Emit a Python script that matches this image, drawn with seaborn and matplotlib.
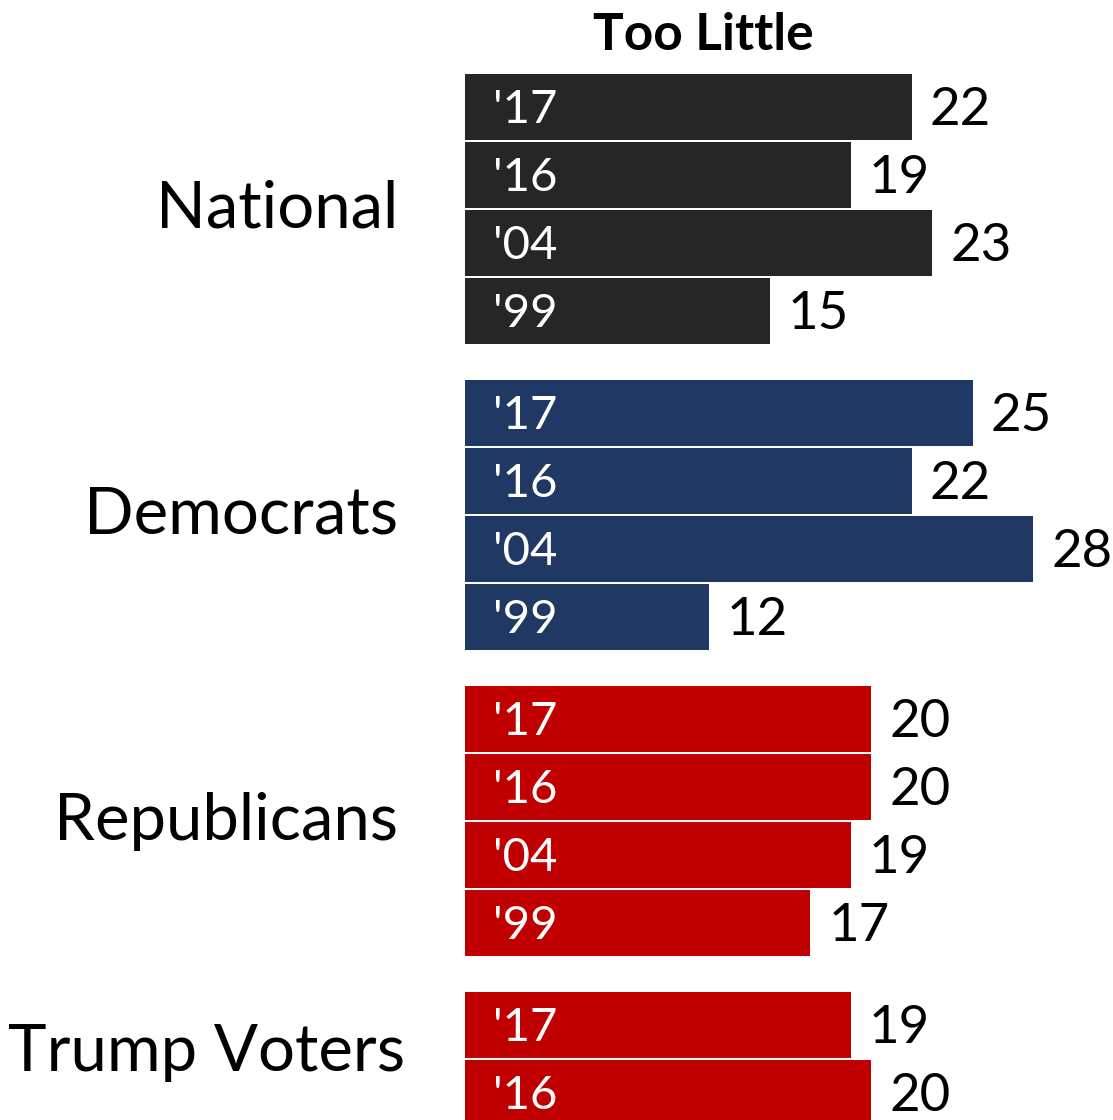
import pandas as pd
import matplotlib.pyplot as plt
import seaborn as sns

# Data
groups = ['National', 'Democrats', 'Republicans', 'Trump Voters']
years = {
    'National': ["'17", "'16", "'04", "'99"],
    'Democrats': ["'17", "'16", "'04", "'99"],
    'Republicans': ["'17", "'16", "'04", "'99"],
    'Trump Voters': ["'17", "'16"],
}
values = {
    'National': [22, 19, 23, 15],
    'Democrats': [25, 22, 28, 12],
    'Republicans': [20, 20, 19, 17],
    'Trump Voters': [19, 20],
}
colors = {
    'National': '#262626',
    'Democrats': '#203864',
    'Republicans': '#C00000',
    'Trump Voters': '#C00000',
}
title = 'Too Little'

# Build long table, one row per bar; 4.5 slots per group
rows = []
for g_i, g in enumerate(groups):
    for b_i, (yr, v) in enumerate(zip(years[g], values[g])):
        rows.append({'group': g, 'year': yr, 'value': v, 'pos': g_i * 4.5 + b_i})
df = pd.DataFrame(rows)

sns.set_theme(style='white')
plt.rcParams['font.family'] = ['Lato', 'DejaVu Sans']

fig = plt.figure(figsize=(11.13, 11.20), dpi=100)
ax = fig.add_axes([465 / 1113, 0, 648 / 1113, 1])

sns.barplot(data=df, x='value', y='pos', hue='group', palette=colors,
            orient='h', native_scale=True, dodge=False, width=0.97,
            saturation=1, legend=False, linewidth=0, ax=ax)

ax.set_xlim(0, 648 / 20.3)
ax.set_ylim(1120 / 68 - 1.574, -1.574)
ax.axis('off')

# labels inside and after bars
for _, r in df.iterrows():
    ax.text(1.4, r['pos'] + 0.04, r['year'], color='white', fontsize=34,
            ha='left', va='center')
    ax.text(r['value'] + 0.9, r['pos'] + 0.05, str(r['value']), color='black',
            fontsize=38, ha='left', va='center')

# group labels
for g_i, g in enumerate(groups):
    n = len(values[g])
    center = g_i * 4.5 + (n - 1) / 2
    x = -3.3 if n == 4 else -2.95
    if n < 4:
        center -= 0.1
    ax.text(x, center, g, fontsize=47, ha='right', va='center',
            color='black')

fig.text(703 / 1113, 1 - 35 / 1120, title, fontsize=37, fontweight='bold',
         ha='center', va='center', color='black')

fig.savefig('out.png', dpi=100)
